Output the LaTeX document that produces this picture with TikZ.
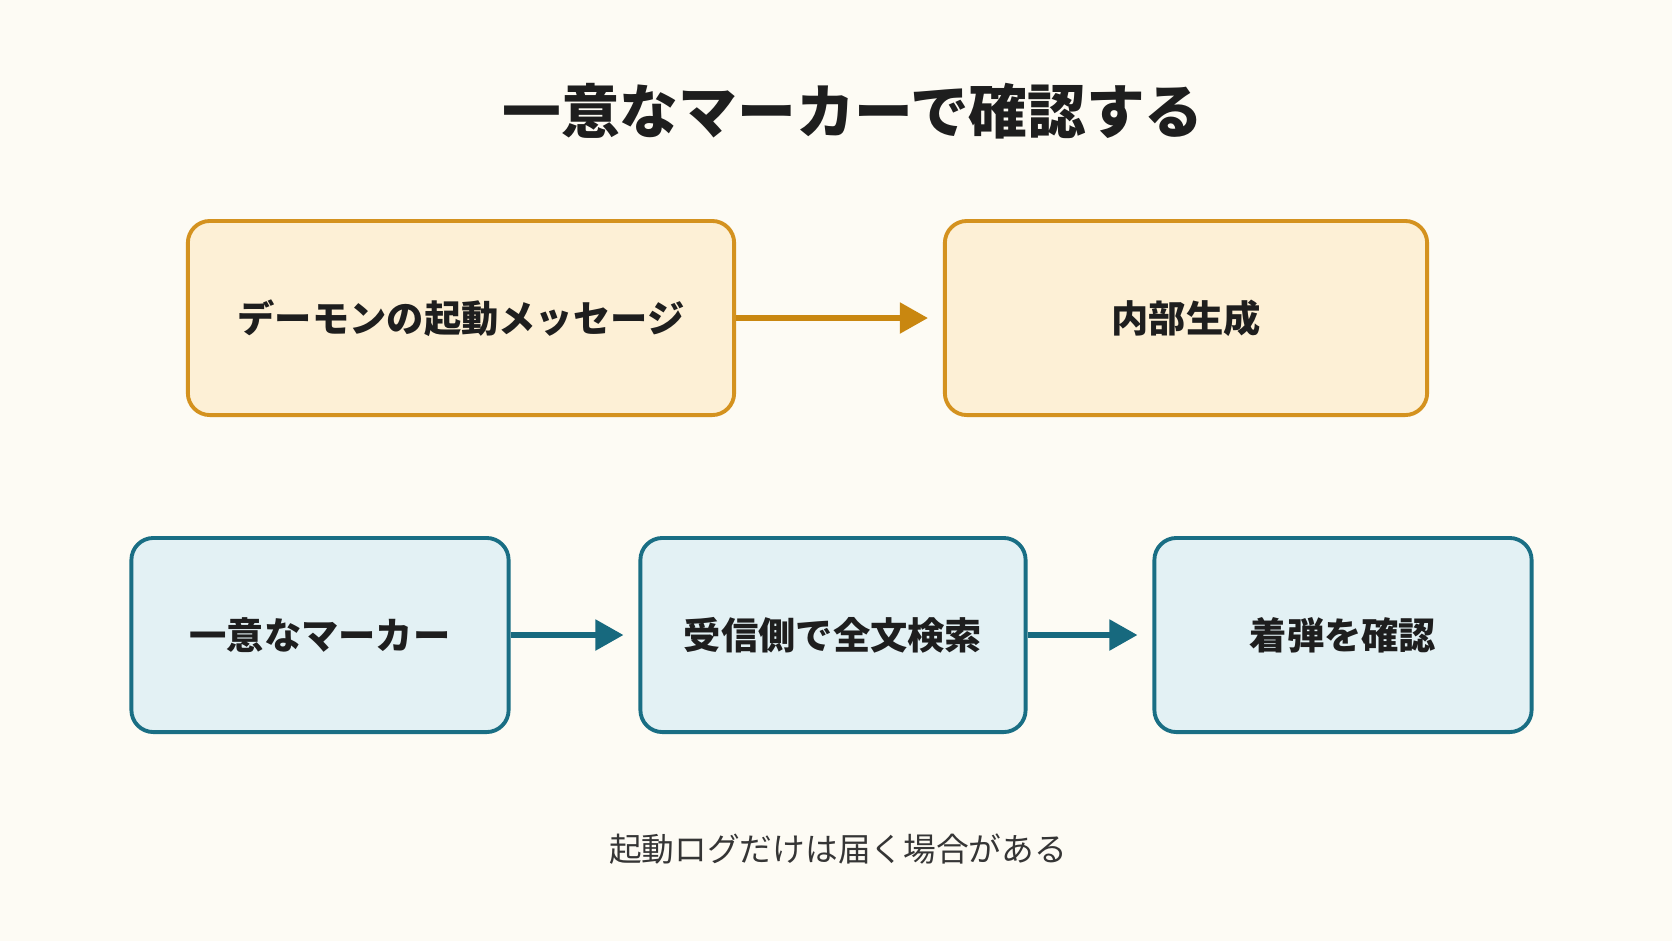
\documentclass[tikz,border=0pt]{standalone}
\usepackage{fontspec}
\setmainfont{Noto Sans CJK JP}
\usetikzlibrary{arrows.meta}
\definecolor{paper}{HTML}{FDFBF4}
\definecolor{warmfill}{HTML}{FDF0D6}
\definecolor{warmline}{HTML}{D4921F}
\definecolor{warmarrow}{HTML}{C98710}
\definecolor{coolfill}{HTML}{E3F1F4}
\definecolor{coolline}{HTML}{196E84}
\definecolor{coolarrow}{HTML}{17697E}
\definecolor{inktext}{HTML}{1E1E1E}

\begin{document}
\begin{tikzpicture}[
  x=0.01cm,y=-0.01cm,
  box/.style={draw,line width=1.1pt,rounded corners=0.22cm,minimum height=1.94cm,
    inner sep=0pt,align=center,font=\fontsize{10.6}{13}\selectfont\bfseries,text=inktext},
  warm/.style={box,fill=warmfill,draw=warmline},
  cool/.style={box,fill=coolfill,draw=coolline},
  flow/.style={line width=1.5pt,-{Triangle[length=0.28cm,width=0.3cm]},shorten >=0.15cm}
]
\fill[paper] (0,0) rectangle (1672,941);
\useasboundingbox (0,0) rectangle (1672,941);
% ---- title ----
\node[font=\fontsize{16.7}{20}\selectfont\bfseries,text=inktext] (title) at (853,111) {一意なマーカーで確認する};
% ---- upper row ----
\node[warm,minimum width=5.46cm] (daemon) at (461,318) {デーモンの起動メッセージ};
\node[warm,minimum width=4.82cm] (inner) at (1186,318) {内部生成};
\draw[flow,warmarrow] (daemon) -- (inner);
% ---- lower row ----
\node[cool,minimum width=3.77cm] (marker) at (320,635) {一意なマーカー};
\node[cool,minimum width=3.85cm] (search) at (833,635) {受信側で全文検索};
\node[cool,minimum width=3.77cm] (landed) at (1343,635) {着弾を確認};
\draw[flow,coolarrow] (marker) -- (search);
\draw[flow,coolarrow] (search) -- (landed);
% ---- note ----
\node[font=\fontsize{9.3}{12}\selectfont,text=inktext!90] (note) at (838,849) {起動ログだけは届く場合がある};
\end{tikzpicture}
\end{document}
